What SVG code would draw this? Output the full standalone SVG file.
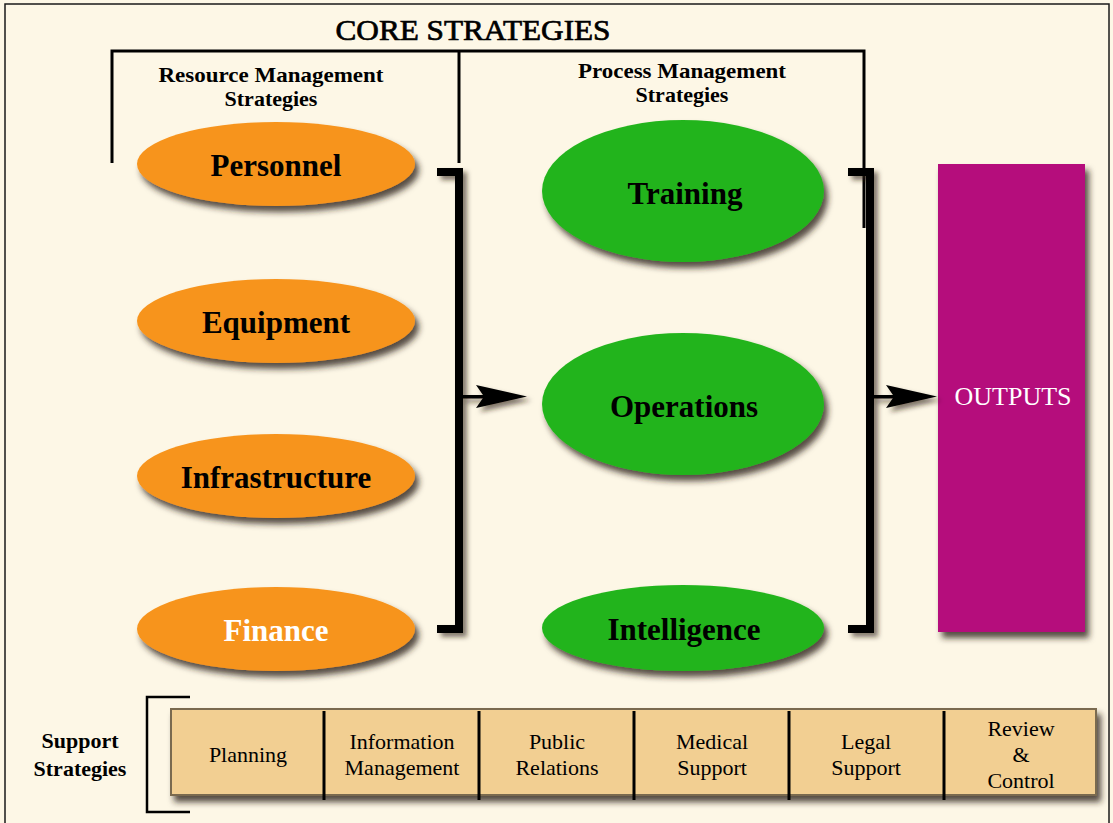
<svg xmlns="http://www.w3.org/2000/svg" width="1113" height="823" viewBox="0 0 1113 823">
<defs>
<filter id="sh" x="-20%" y="-20%" width="150%" height="160%">
<feDropShadow dx="4" dy="6" stdDeviation="3" flood-color="#2a2418" flood-opacity="0.8"/>
</filter>
<filter id="shs" x="-30%" y="-10%" width="180%" height="130%">
<feDropShadow dx="4" dy="4" stdDeviation="2.5" flood-color="#2a2418" flood-opacity="0.6"/>
</filter>
</defs>
<style>
.title{font-family:"Liberation Serif",serif;font-size:29px;fill:#000;stroke:#000;stroke-width:0.7}
.hdr{font-family:"Liberation Serif",serif;font-size:22px;font-weight:bold;fill:#000}
.lbl{font-family:"Liberation Serif",serif;font-size:31px;font-weight:bold;fill:#000}
.cell{font-family:"Liberation Serif",serif;font-size:22px;fill:#000}
.orange{fill:#f7941d}
.green{fill:#22b41c}
.thin{stroke:#000;stroke-width:3;fill:none}
.thick{fill:#000}
</style>
<rect x="0" y="0" width="1113" height="823" fill="#fdf7e6"/>
<rect x="5" y="4" width="1104" height="830" fill="none" stroke="#1a1a1a" stroke-width="1.5"/>

<g id="title">
<text class="title" x="473" y="40" text-anchor="middle" textLength="275" lengthAdjust="spacingAndGlyphs">CORE STRATEGIES</text>
<polyline class="thin" points="112,163 112,51 864,51 864,228"/>
<line class="thin" x1="459" y1="51" x2="459" y2="163"/>
<text class="hdr" x="271" y="82" text-anchor="middle" textLength="225" lengthAdjust="spacingAndGlyphs">Resource Management</text>
<text class="hdr" x="271" y="106" text-anchor="middle">Strategies</text>
<text class="hdr" x="682" y="78" text-anchor="middle" textLength="208" lengthAdjust="spacingAndGlyphs">Process Management</text>
<text class="hdr" x="682" y="102" text-anchor="middle">Strategies</text>
</g>

<g id="personnel">
<ellipse class="orange" cx="276" cy="164" rx="139" ry="42" filter="url(#sh)"/>
<text class="lbl" x="276" y="176" text-anchor="middle">Personnel</text>
</g>
<g id="equipment">
<ellipse class="orange" cx="276" cy="321" rx="139" ry="42" filter="url(#sh)"/>
<text class="lbl" x="276" y="333" text-anchor="middle">Equipment</text>
</g>
<g id="infrastructure">
<ellipse class="orange" cx="276" cy="476" rx="139" ry="42" filter="url(#sh)"/>
<text class="lbl" x="276" y="488" text-anchor="middle">Infrastructure</text>
</g>
<g id="finance">
<ellipse class="orange" cx="276" cy="629" rx="139" ry="42" filter="url(#sh)"/>
<text class="lbl" x="276" y="641" text-anchor="middle" style="fill:#fff">Finance</text>
</g>

<g id="training">
<ellipse class="green" cx="683" cy="191" rx="141" ry="71" filter="url(#sh)"/>
<text class="lbl" x="685" y="204" text-anchor="middle">Training</text>
</g>
<g id="operations">
<ellipse class="green" cx="683" cy="404" rx="141" ry="71" filter="url(#sh)"/>
<text class="lbl" x="684" y="417" text-anchor="middle">Operations</text>
</g>
<g id="intelligence">
<ellipse class="green" cx="683" cy="628" rx="141" ry="43" filter="url(#sh)"/>
<text class="lbl" x="684" y="640" text-anchor="middle">Intelligence</text>
</g>

<g id="outputs">
<rect x="938" y="164" width="147" height="468" fill="#b5097b" filter="url(#sh)"/>
<text x="1013" y="405" text-anchor="middle" font-family="Liberation Serif, serif" font-size="26" fill="#fff">OUTPUTS</text>
</g>

<g id="connectors" filter="url(#shs)">
<path class="thick" d="M437,168 H463 V633 H437 V625 H455 V176 H437 Z"/>
<rect x="455" y="395" width="35" height="3.5" fill="#000"/>
<polygon points="527,396.5 476,385 484,396.5 476,408" fill="#000"/>
<path class="thick" d="M848,168 H874 V633 H848 V625 H866 V176 H848 Z"/>
<rect x="866" y="395" width="35" height="3.5" fill="#000"/>
<polygon points="937,396.5 886,385 894,396.5 886,408" fill="#000"/>
</g>

<g id="support-label">
<text class="hdr" x="80" y="748" text-anchor="middle">Support</text>
<text class="hdr" x="80" y="776" text-anchor="middle">Strategies</text>
<polyline points="190,697 147,697 147,812 190,812" fill="none" stroke="#000" stroke-width="2.5"/>
</g>

<g id="support-bar">
<rect x="171" y="709" width="925" height="86" fill="#f2cf92" stroke="#7a6a50" stroke-width="2" filter="url(#sh)"/>
<g stroke="#000" stroke-width="3">
<line x1="324" y1="711" x2="324" y2="800"/>
<line x1="479" y1="711" x2="479" y2="800"/>
<line x1="634" y1="711" x2="634" y2="800"/>
<line x1="789" y1="711" x2="789" y2="800"/>
<line x1="944" y1="711" x2="944" y2="800"/>
</g>
</g>
<g id="planning"><text class="cell" x="248" y="762" text-anchor="middle">Planning</text></g>
<g id="information-management"><text class="cell" x="402" y="749" text-anchor="middle">Information</text><text class="cell" x="402" y="775" text-anchor="middle">Management</text></g>
<g id="public-relations"><text class="cell" x="557" y="749" text-anchor="middle">Public</text><text class="cell" x="557" y="775" text-anchor="middle">Relations</text></g>
<g id="medical-support"><text class="cell" x="712" y="749" text-anchor="middle">Medical</text><text class="cell" x="712" y="775" text-anchor="middle">Support</text></g>
<g id="legal-support"><text class="cell" x="866" y="749" text-anchor="middle">Legal</text><text class="cell" x="866" y="775" text-anchor="middle">Support</text></g>
<g id="review-control"><text class="cell" x="1021" y="736" text-anchor="middle">Review</text><text class="cell" x="1021" y="762" text-anchor="middle">&amp;</text><text class="cell" x="1021" y="788" text-anchor="middle">Control</text></g>
</svg>
